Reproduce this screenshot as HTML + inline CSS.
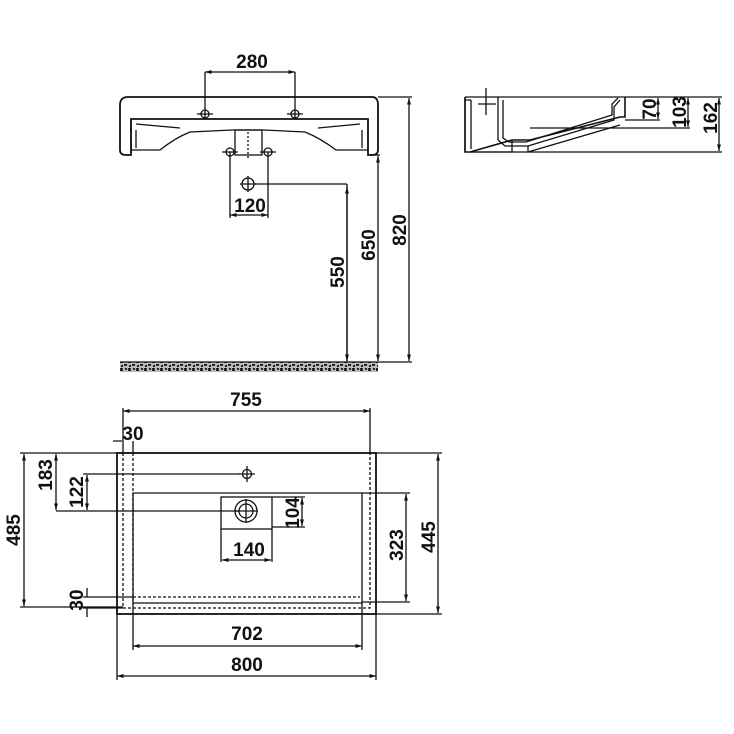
<!DOCTYPE html>
<html><head><meta charset="utf-8"><style>
html,body{margin:0;padding:0;background:#fff;width:734px;height:734px;overflow:hidden}
text{font-family:"Liberation Sans Narrow","Liberation Sans",sans-serif;font-weight:bold;font-size:19px;fill:#111}
</style></head><body>
<svg width="734" height="734" viewBox="0 0 734 734" xmlns="http://www.w3.org/2000/svg">
<defs>
<marker id="a" viewBox="0 0 10 10" refX="10" refY="5" markerWidth="7" markerHeight="5" orient="auto-start-reverse"><path d="M0,2 L10,5 L0,8z" fill="#111"/></marker>
<pattern id="sp" width="8" height="8" patternUnits="userSpaceOnUse"><rect width="8" height="8" fill="#bbb"/><path d="M0,0h3v3h-3zM4,4h3v2h-3zM1,5h2v2h-2zM5,0h2v2h-2z" fill="#222"/></pattern>
</defs>
<g stroke="#111" stroke-width="1.3" fill="none">
<path d="M128,97 H372 Q378,97 378,105 V150 Q378,155 372,155 H368 V119 H131 V155 H126 Q120,155 120,150 V105 Q120,97 128,97Z" stroke-width="1.8"/>
<path d="M131,119 V150 H160 Q175,138 190,132 L232,130 H264 L305,132 Q320,138 336,150 H368" />
<path d="M136,124 L180,128 M360,124 L318,128 M136,130 V148 M362,130 V148"/>
<rect x="235" y="130" width="27" height="25"/>
<path d="M248,132 V158" stroke-dasharray="2,2"/>
<circle cx="205" cy="114" r="4"/><circle cx="295" cy="114" r="4"/>
<path d="M197,114h16M287,114h16"/>
<circle cx="230" cy="152" r="4"/><circle cx="268" cy="152" r="4"/>
<path d="M222,152h16M260,152h16"/>
<circle cx="248" cy="184" r="6"/><path d="M240,184h16M248,176v16"/>
<path d="M205,72 V118 M295,72 V118"/>
<path d="M205,72 H295" marker-start="url(#a)" marker-end="url(#a)"/>
<path d="M230,152 V218 M268,152 V218"/>
<path d="M230,215 H268" marker-start="url(#a)" marker-end="url(#a)"/>
<path d="M254,184 H347 M347,184 V362" />
<path d="M347,187 V361" marker-start="url(#a)" marker-end="url(#a)"/>
<path d="M370,155 H380"/>
<path d="M378,156 V361" marker-start="url(#a)" marker-end="url(#a)"/>
<path d="M378,97 H412 M380,362 H412"/>
<path d="M409,98 V361" marker-start="url(#a)" marker-end="url(#a)"/>
<rect x="120" y="362" width="258" height="10" fill="url(#sp)" stroke="none"/>
<path d="M120,362 H380"/>
<path d="M465,97 H722"/>
<path d="M465,97 V152 H470 L512,140 H530 L620,117 H625 V97" stroke-width="1.6"/>
<path d="M465,97 V152 M471,100 V149 M465,100 H471"/>
<path d="M498,97 V140 L505,146 H528 L614,120 V107 L620,100" />
<path d="M503,100 V138 L509,142 H526 L612,115 V104 L618,98"/>
<path d="M486,88 V115 M478,104 H496"/>
<path d="M512,140 V152 H470 M528,146 V152 L620,125"/>
<path d="M625,120 H660 M530,128 H690 M470,152 H722"/>
<path d="M658,98 V119" marker-start="url(#a)" marker-end="url(#a)"/>
<path d="M688,98 V127" marker-start="url(#a)" marker-end="url(#a)"/>
<path d="M719,98 V151" marker-start="url(#a)" marker-end="url(#a)"/>
<rect x="117" y="453" width="259" height="161" stroke-width="1.8"/>
<path d="M123,453 V608 H370 V453 M133,453 V603" stroke-dasharray="3,2"/>
<path d="M133,493 H362 V603 H133 Z"/>
<path d="M133,597 H360" stroke-dasharray="3,2"/>
<path d="M123,408 V453 M370,408 V453"/>
<path d="M123,411 H370" marker-start="url(#a)" marker-end="url(#a)"/>
<path d="M113,441 H122 M133,441 V453"/>
<path d="M133,603 V650 M362,603 V650"/>
<path d="M133,646 H362" marker-start="url(#a)" marker-end="url(#a)"/>
<path d="M117,614 V680 M376,614 V680"/>
<path d="M117,676 H376" marker-start="url(#a)" marker-end="url(#a)"/>
<path d="M376,453 H442 M376,614 H442"/>
<path d="M438,454 V613" marker-start="url(#a)" marker-end="url(#a)"/>
<path d="M362,493 H410 M362,602 H410"/>
<path d="M406,494 V601" marker-start="url(#a)" marker-end="url(#a)"/>
<path d="M20,453 H117 M20,607 H123"/>
<path d="M24,454 V606" marker-start="url(#a)" marker-end="url(#a)"/>
<path d="M56,511 H240 M83,474 H240"/>
<path d="M56,454 V510" marker-start="url(#a)" marker-end="url(#a)"/>
<path d="M87,475 V510" marker-start="url(#a)" marker-end="url(#a)"/>
<circle cx="247" cy="474" r="4.5"/><path d="M239,474h16M247,466v16"/>
<circle cx="246" cy="511" r="11"/><circle cx="246" cy="511" r="7"/><path d="M234,511h24M246,499v24"/>
<rect x="221" y="497" width="51" height="32"/>
<path d="M221,529 V562 M272,529 V562"/>
<path d="M222,560 H271" marker-start="url(#a)" marker-end="url(#a)"/>
<path d="M272,497 H305 M272,527 H305"/>
<path d="M302,498 V526" marker-start="url(#a)" marker-end="url(#a)"/>
<path d="M83,597 H133 M83,608 H123 M87,588 V597 M87,608 V617"/>
</g>
<text x="252" y="68" text-anchor="middle">280</text>
<text x="250" y="212" text-anchor="middle">120</text>
<text transform="translate(344,272) rotate(-90)" text-anchor="middle">550</text>
<text transform="translate(375,245) rotate(-90)" text-anchor="middle">650</text>
<text transform="translate(406,230) rotate(-90)" text-anchor="middle">820</text>
<text transform="translate(656,109) rotate(-90)" text-anchor="middle">70</text>
<text transform="translate(686,112) rotate(-90)" text-anchor="middle">103</text>
<text transform="translate(717,118) rotate(-90)" text-anchor="middle">162</text>
<text x="246" y="406" text-anchor="middle">755</text>
<text x="133" y="440" text-anchor="middle">30</text>
<text transform="translate(52,475) rotate(-90)" text-anchor="middle">183</text>
<text transform="translate(83,492) rotate(-90)" text-anchor="middle">122</text>
<text transform="translate(20,530) rotate(-90)" text-anchor="middle">485</text>
<text transform="translate(299,513) rotate(-90)" text-anchor="middle">104</text>
<text x="249" y="556" text-anchor="middle">140</text>
<text transform="translate(403,545) rotate(-90)" text-anchor="middle">323</text>
<text transform="translate(435,537) rotate(-90)" text-anchor="middle">445</text>
<text transform="translate(83,600) rotate(-90)" text-anchor="middle">30</text>
<text x="247" y="640" text-anchor="middle">702</text>
<text x="247" y="671" text-anchor="middle">800</text>
</svg>
</body></html>
